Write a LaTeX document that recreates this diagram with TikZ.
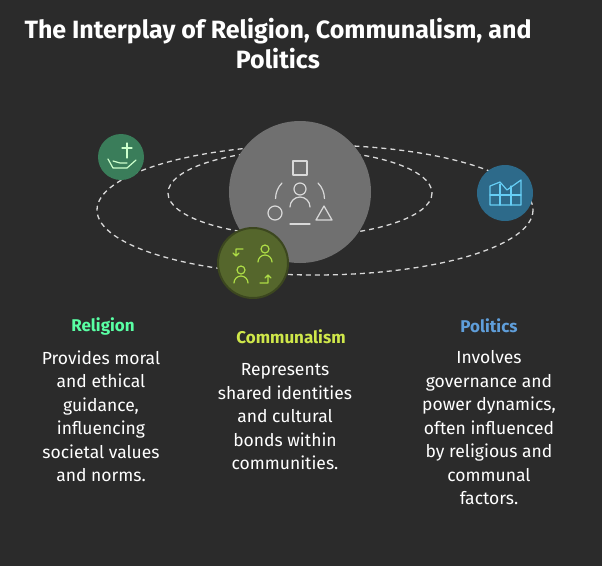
\documentclass[tikz,border=0pt]{standalone}
\usepackage{fontspec}
\setmainfont{Fira Sans}
\begin{document}
\begin{tikzpicture}[x=1pt,y=-1pt,
  body/.style={text=white,align=center,font=\fontsize{17.5}{23.5}\selectfont},
  head/.style={font=\bfseries\fontsize{17}{20}\selectfont},
  orbit/.style={draw=white!85!black,dash pattern=on 5pt off 4pt,line width=1.3pt},
  ic/.style={line width=1.2pt,line cap=round,line join=round}]
\definecolor{bg}{HTML}{2B2B2B}
\definecolor{hubc}{HTML}{707070}
\definecolor{relc}{HTML}{3A7D5A}
\definecolor{polc}{HTML}{2D6A8A}
\definecolor{comc}{HTML}{55662C}
\fill[fill=bg] (0,0) rectangle (602,566);
\useasboundingbox (0,0) rectangle (602,566);
\node[text=white,font=\bfseries\fontsize{25}{30}\selectfont,align=center] (title) at (278,44) {The Interplay of Religion, Communalism, and\\Politics};
\draw[orbit] (315,210) ellipse [x radius=218,y radius=65];
\draw[orbit] (300,193) ellipse [x radius=132,y radius=43];
\node[circle,fill=hubc,minimum size=142pt,inner sep=0] (hub) at (300,192) {};
% hub icon
\begin{scope}[white!85!black,ic]
\draw (293,161) rectangle (307,175);
\draw (300,189) circle (6);
\draw (290,207) arc (180:360:10);
\draw (275,213) circle (7);
\draw (316,220) -- (324,206) -- (332,220) -- cycle;
\draw (282,183) arc (225:180:22);
\draw (318,183) arc (-45:0:22);
\draw (290,224) -- (310,224);
\end{scope}
% religion
\node[circle,fill=relc,minimum size=46pt,inner sep=0] (rel) at (121,157) {};
\begin{scope}[white!80!green,ic]
\draw (127,143) -- (127,158) (122,148) -- (132,148);
\draw (108,159) -- (113,168) -- (127,168) -- (136,160) (113,161) -- (120,163) -- (127,163);
\end{scope}
% politics
\node[circle,fill=polc,minimum size=56pt,inner sep=0] (pol) at (505,193) {};
\begin{scope}[cyan!60!white,ic]
\draw (490,186) -- (490,205) -- (521,205) -- (521,180) -- (507,190) -- (500,182) -- cycle;
\draw (490,195) -- (521,195) (500,184) -- (500,205) (511,186) -- (511,205);
\end{scope}
% communalism
\node[circle,fill=comc,draw=comc!70!black,line width=2pt,minimum size=70pt,inner sep=0] (com) at (253,263) {};
\begin{scope}[yellow!60!green!80!white,ic]
\draw (265,249) circle (4); \draw (258,262) arc (180:360:7);
\draw (241,270) circle (4); \draw (234,283) arc (180:360:7);
\draw (243,249) -- (236,249) -- (236,256) (233,253) -- (236,256) -- (239,253);
\draw (260,283) -- (268,283) -- (268,275) (265,278) -- (268,275) -- (271,278);
\end{scope}
% labels
\node[head,text=green!55!cyan!65!white] (relh) at (103,326) {Religion};
\node[head,text=yellow!75!green!75!white] (comh) at (291,337) {Communalism};
\node[head,text=cyan!60!blue!65!white] (polh) at (489,326) {Politics};
\node[body,anchor=north] (relb) at (101,347) {Provides moral\\and ethical\\guidance,\\influencing\\societal values\\and norms.};
\node[body,anchor=north] (comb) at (285,360) {Represents\\shared identities\\and cultural\\bonds within\\communities.};
\node[body,anchor=north] (polb) at (489,347) {Involves\\governance and\\power dynamics,\\often influenced\\by religious and\\communal\\factors.};
\end{tikzpicture}
\end{document}
